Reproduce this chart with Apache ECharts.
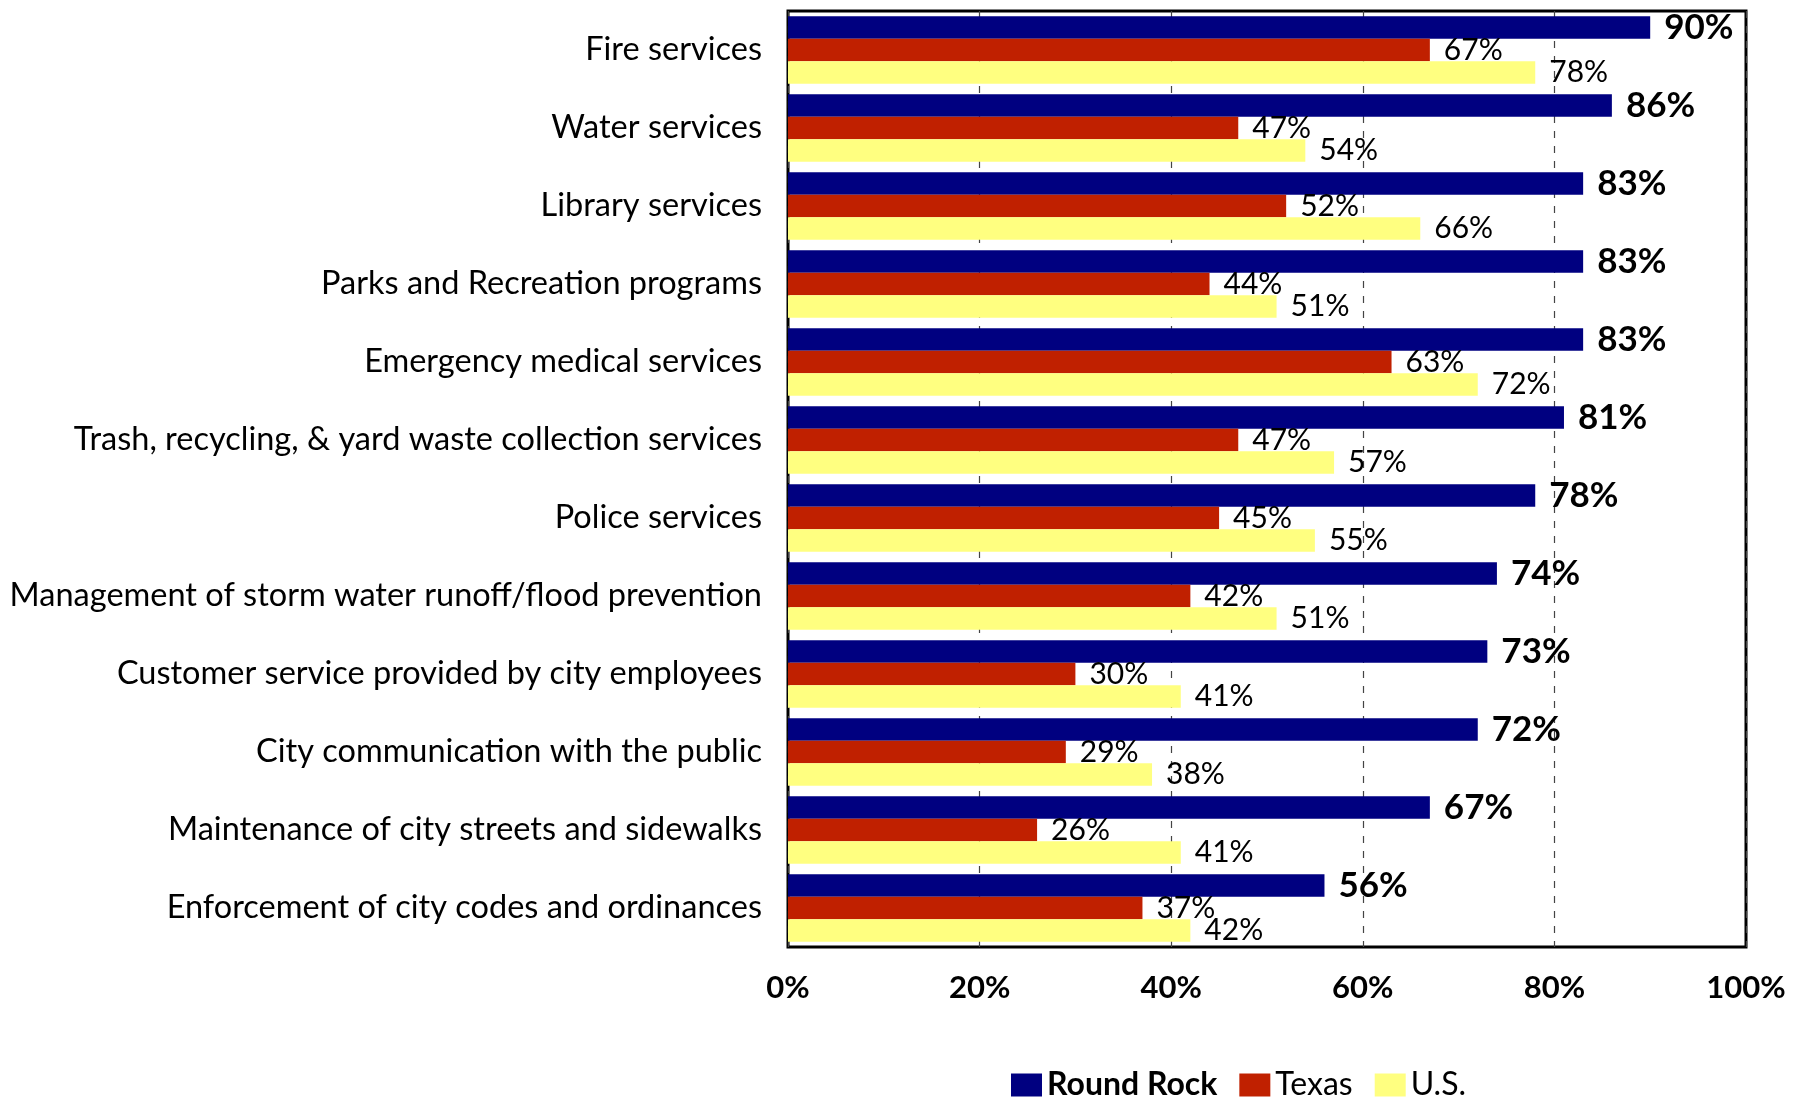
<!DOCTYPE html>
<html>
<head>
<meta charset="utf-8">
<script src="https://cdn.jsdelivr.net/npm/echarts@6/dist/echarts.min.js"></script>
<style>
  html, body { margin: 0; padding: 0; background: #fff; }
  #chart { width: 1801px; height: 1098px; }
</style>
</head>
<body>
<div id="chart"></div>
<script>
// Service satisfaction: share of residents rating each service positively
const categories = [
  'Fire services',
  'Water services',
  'Library services',
  'Parks and Recreation programs',
  'Emergency medical services',
  'Trash, recycling, & yard waste collection services',
  'Police services',
  'Management of storm water runoff/flood prevention',
  'Customer service provided by city employees',
  'City communication with the public',
  'Maintenance of city streets and sidewalks',
  'Enforcement of city codes and ordinances'
];
const roundRock = [90, 86, 83, 83, 83, 81, 78, 74, 73, 72, 67, 56];
const texas     = [67, 47, 52, 44, 63, 47, 45, 42, 30, 29, 26, 37];
const us        = [78, 54, 66, 51, 72, 57, 55, 51, 41, 38, 41, 42];
const xTicks = [0, 20, 40, 60, 80, 100];

const FONT = 'Lato, "Open Sans", sans-serif';

const chart = echarts.init(document.getElementById('chart'));

function barSeries(name, data, color, bold) {
  return {
    name: name,
    type: 'bar',
    data: data,
    barGap: '0%',
    barCategoryGap: '13.5%',
    itemStyle: { color: color },
    label: {
      show: true,
      position: 'right',
      distance: 14,
      formatter: '{c}%',
      color: '#000',
      fontFamily: FONT,
      fontSize: bold ? 35 : 30,
      fontWeight: bold ? 'bold' : 'normal'
    },
    emphasis: { disabled: true }
  };
}

chart.setOption({
  animation: false,
  backgroundColor: '#fff',
  grid: {
    left: 788, right: 55, top: 11, bottom: 151,
    show: true, borderColor: '#000', borderWidth: 3,
    containLabel: false
  },
  legend: {
    left: 1006, top: 1064,
    itemWidth: 31, itemHeight: 23, itemGap: 22,
    icon: 'rect',
    textStyle: { fontFamily: FONT, fontSize: 32, color: '#000' },
    data: [
      { name: 'Round Rock', textStyle: { fontWeight: 'bold' } },
      { name: 'Texas' },
      { name: 'U.S.' }
    ]
  },
  xAxis: {
    type: 'value',
    min: xTicks[0], max: xTicks[xTicks.length - 1], interval: 20,
    axisLine: { show: false },
    axisTick: { show: false },
    splitLine: { show: true, lineStyle: { color: '#444', type: [7, 8], width: 1.2 } },
    axisLabel: {
      formatter: '{value}%', margin: 25,
      color: '#000', fontFamily: FONT, fontSize: 31, fontWeight: 'bold'
    }
  },
  yAxis: {
    type: 'category',
    data: categories,
    inverse: true,
    axisLine: { show: false },
    axisTick: { show: false },
    axisLabel: {
      margin: 26, color: '#000', fontFamily: FONT, fontSize: 32.5
    }
  },
  series: [
    barSeries('Round Rock', roundRock, '#000080', true),
    barSeries('Texas', texas, '#C02000', false),
    barSeries('U.S.', us, '#FFFF80', false)
  ]
});
</script>
</body>
</html>
